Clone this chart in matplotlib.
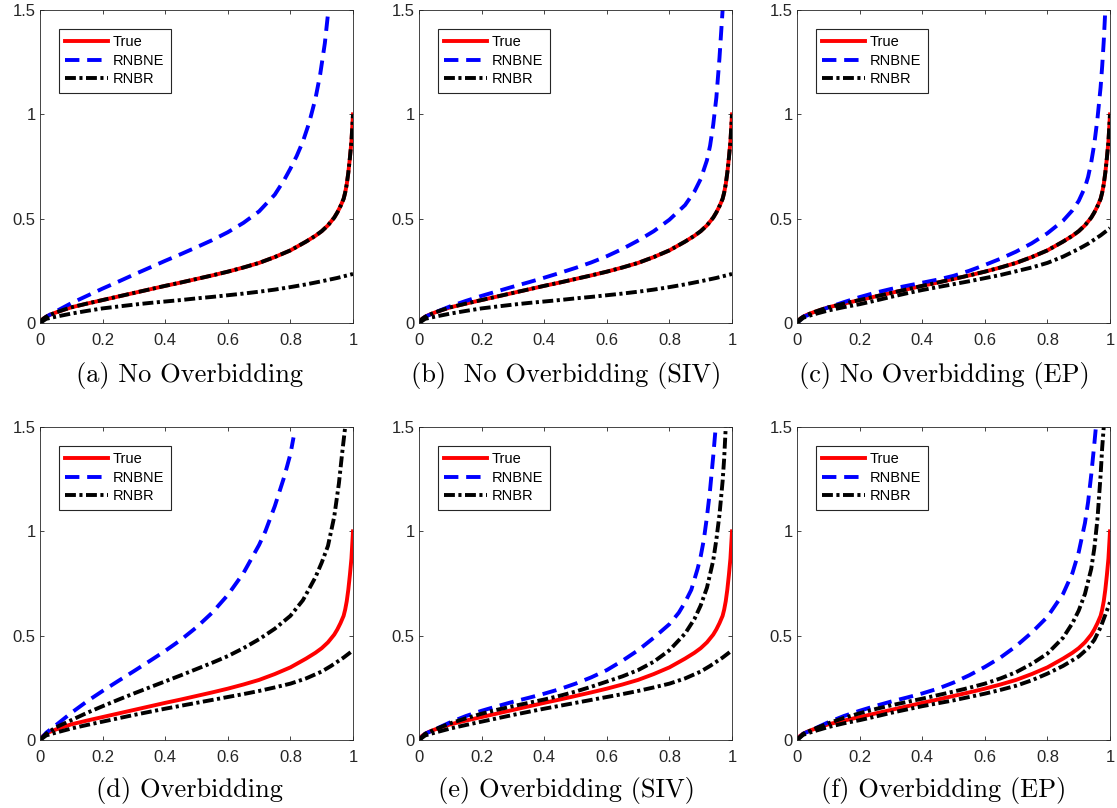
import matplotlib
matplotlib.use("Agg")
import matplotlib.pyplot as plt

# ---- data ----
x_true = [0, 0.005, 0.01, 0.02, 0.03, 0.05, 0.075, 0.1, 0.15, 0.2, 0.25, 0.3, 0.35, 0.4, 0.45, 0.5, 0.55, 0.6,
          0.65, 0.7, 0.75, 0.8, 0.85, 0.88, 0.9, 0.92, 0.94, 0.95, 0.96, 0.97, 0.975, 0.98, 0.985, 0.99, 0.995, 1.0]
y_true = [0, 0.012, 0.02, 0.03, 0.038, 0.05, 0.063, 0.075, 0.093, 0.11, 0.127, 0.144, 0.161, 0.178, 0.194, 0.211,
          0.228, 0.246, 0.266, 0.288, 0.316, 0.348, 0.39, 0.418, 0.44, 0.468, 0.505, 0.53, 0.56, 0.595, 0.625,
          0.665, 0.72, 0.79, 0.87, 1.0]

# RNBNE per panel
x_ne_a = [0, 0.02, 0.05, 0.1, 0.15, 0.2, 0.25, 0.3, 0.35, 0.4, 0.45, 0.5, 0.55, 0.6, 0.65, 0.7, 0.75, 0.78,
          0.8, 0.82, 0.84, 0.86, 0.88, 0.895, 0.91, 0.92]
y_ne_a = [0, 0.03, 0.055, 0.095, 0.13, 0.165, 0.198, 0.232, 0.265, 0.298, 0.33, 0.363, 0.397, 0.435, 0.48,
          0.535, 0.615, 0.685, 0.74, 0.80, 0.87, 0.96, 1.075, 1.19, 1.34, 1.48]
x_ne_b = [0, 0.02, 0.05, 0.1, 0.15, 0.2, 0.25, 0.3, 0.35, 0.4, 0.45, 0.5, 0.55, 0.6, 0.65, 0.7, 0.75, 0.8,
          0.85, 0.88, 0.9, 0.92, 0.93, 0.94, 0.95, 0.96, 0.97]
y_ne_b = [0, 0.03, 0.05, 0.08, 0.106, 0.13, 0.152, 0.174, 0.195, 0.217, 0.24, 0.264, 0.29, 0.32, 0.355, 0.395,
          0.44, 0.495, 0.565, 0.63, 0.69, 0.78, 0.85, 0.95, 1.08, 1.27, 1.5]
x_ne_c = [0, 0.02, 0.05, 0.1, 0.15, 0.2, 0.25, 0.3, 0.35, 0.4, 0.45, 0.5, 0.55, 0.6, 0.65, 0.7, 0.75, 0.8,
          0.85, 0.88, 0.9, 0.92, 0.93, 0.94, 0.95, 0.96, 0.97, 0.975, 0.98, 0.985]
y_ne_c = [0, 0.03, 0.045, 0.075, 0.1, 0.124, 0.145, 0.163, 0.178, 0.193, 0.208, 0.226, 0.25, 0.278, 0.308,
          0.342, 0.382, 0.43, 0.49, 0.54, 0.585, 0.65, 0.70, 0.77, 0.86, 0.98, 1.13, 1.23, 1.35, 1.5]
x_ne_d = [0, 0.02, 0.05, 0.1, 0.15, 0.2, 0.25, 0.3, 0.35, 0.4, 0.45, 0.5, 0.55, 0.6, 0.65, 0.7, 0.72, 0.75,
          0.78, 0.8, 0.81]
y_ne_d = [0, 0.035, 0.07, 0.13, 0.185, 0.235, 0.283, 0.33, 0.378, 0.427, 0.48, 0.54, 0.61, 0.695, 0.80, 0.935,
          1.0, 1.12, 1.26, 1.37, 1.45]
x_ne_e = [0, 0.02, 0.05, 0.1, 0.15, 0.2, 0.25, 0.3, 0.35, 0.4, 0.45, 0.5, 0.55, 0.6, 0.65, 0.7, 0.75, 0.8,
          0.83, 0.85, 0.87, 0.89, 0.9, 0.91, 0.92, 0.93, 0.94, 0.948]
y_ne_e = [0, 0.03, 0.05, 0.085, 0.115, 0.14, 0.162, 0.183, 0.202, 0.222, 0.244, 0.27, 0.3, 0.335, 0.38, 0.43,
          0.49, 0.555, 0.61, 0.66, 0.72, 0.82, 0.88, 0.96, 1.07, 1.2, 1.36, 1.5]
x_ne_f = [0, 0.02, 0.05, 0.1, 0.15, 0.2, 0.25, 0.3, 0.35, 0.4, 0.45, 0.5, 0.55, 0.6, 0.65, 0.7, 0.75, 0.8,
          0.85, 0.88, 0.9, 0.92, 0.93, 0.94, 0.95, 0.955]
y_ne_f = [0, 0.03, 0.05, 0.085, 0.115, 0.14, 0.163, 0.184, 0.203, 0.223, 0.246, 0.275, 0.31, 0.35, 0.395, 0.45,
          0.515, 0.59, 0.70, 0.80, 0.90, 1.04, 1.14, 1.27, 1.42, 1.5]

# RNBR upper bound (d, e, f); in a, b, c it equals True
x_hi_d = [0, 0.02, 0.05, 0.1, 0.15, 0.2, 0.25, 0.3, 0.35, 0.4, 0.45, 0.5, 0.55, 0.6, 0.65, 0.7, 0.75, 0.8,
          0.84, 0.88, 0.9, 0.92, 0.94, 0.955, 0.965, 0.975]
y_hi_d = [0, 0.03, 0.06, 0.095, 0.13, 0.162, 0.193, 0.223, 0.252, 0.281, 0.31, 0.34, 0.37, 0.402, 0.44,
          0.483, 0.533, 0.595, 0.67, 0.78, 0.85, 0.93, 1.07, 1.23, 1.37, 1.5]
x_hi_e = [0, 0.02, 0.05, 0.1, 0.15, 0.2, 0.25, 0.3, 0.35, 0.4, 0.45, 0.5, 0.55, 0.6, 0.65, 0.7, 0.75, 0.8,
          0.85, 0.88, 0.9, 0.92, 0.94, 0.95, 0.96, 0.97, 0.975, 0.98]
y_hi_e = [0, 0.03, 0.05, 0.08, 0.104, 0.126, 0.145, 0.162, 0.178, 0.194, 0.212, 0.232, 0.255, 0.28, 0.305,
          0.335, 0.375, 0.43, 0.51, 0.58, 0.645, 0.73, 0.86, 0.96, 1.08, 1.24, 1.35, 1.5]
x_hi_f = [0, 0.02, 0.05, 0.1, 0.15, 0.2, 0.25, 0.3, 0.35, 0.4, 0.45, 0.5, 0.55, 0.6, 0.65, 0.7, 0.75, 0.8,
          0.85, 0.88, 0.9, 0.92, 0.94, 0.95, 0.96, 0.97, 0.975, 0.98]
y_hi_f = [0, 0.03, 0.05, 0.08, 0.106, 0.128, 0.148, 0.166, 0.182, 0.198, 0.215, 0.232, 0.25, 0.27, 0.295,
          0.325, 0.365, 0.414, 0.49, 0.56, 0.62, 0.70, 0.82, 0.92, 1.06, 1.27, 1.4, 1.5]

# RNBR lower bound
x_lo_ab = [0, 0.02, 0.05, 0.1, 0.15, 0.2, 0.25, 0.3, 0.35, 0.4, 0.45, 0.5, 0.55, 0.6, 0.65, 0.7, 0.75, 0.8,
           0.85, 0.9, 0.95, 1.0]
y_lo_ab = [0, 0.02, 0.03, 0.045, 0.058, 0.07, 0.079, 0.088, 0.096, 0.103, 0.11, 0.118, 0.125, 0.133, 0.141,
           0.15, 0.16, 0.172, 0.185, 0.2, 0.216, 0.235]
x_lo_c = [0, 0.02, 0.05, 0.1, 0.15, 0.2, 0.25, 0.3, 0.35, 0.4, 0.45, 0.5, 0.55, 0.6, 0.65, 0.7, 0.75, 0.8,
          0.85, 0.9, 0.93, 0.95, 0.97, 0.99, 1.0]
y_lo_c = [0, 0.025, 0.04, 0.06, 0.076, 0.09, 0.107, 0.125, 0.142, 0.158, 0.172, 0.186, 0.2, 0.215, 0.23,
          0.248, 0.266, 0.288, 0.318, 0.355, 0.38, 0.40, 0.42, 0.443, 0.455]
x_lo_de = [0, 0.02, 0.05, 0.1, 0.15, 0.2, 0.25, 0.3, 0.35, 0.4, 0.45, 0.5, 0.55, 0.6, 0.65, 0.7, 0.75, 0.8,
           0.85, 0.9, 0.93, 0.95, 0.97, 0.99, 1.0]
y_lo_de = [0, 0.022, 0.035, 0.055, 0.072, 0.088, 0.104, 0.12, 0.135, 0.15, 0.164, 0.178, 0.192, 0.206, 0.22,
           0.235, 0.252, 0.27, 0.295, 0.328, 0.355, 0.375, 0.395, 0.418, 0.43]
x_lo_f = [0, 0.02, 0.05, 0.1, 0.15, 0.2, 0.25, 0.3, 0.35, 0.4, 0.45, 0.5, 0.55, 0.6, 0.65, 0.7, 0.75, 0.8,
          0.85, 0.9, 0.93, 0.95, 0.97, 0.98, 0.99, 1.0]
y_lo_f = [0, 0.025, 0.04, 0.062, 0.08, 0.095, 0.112, 0.13, 0.146, 0.162, 0.176, 0.19, 0.206, 0.222, 0.24,
          0.26, 0.286, 0.318, 0.355, 0.40, 0.44, 0.48, 0.54, 0.58, 0.62, 0.66]

captions = ["(a) No Overbidding", "(b)  No Overbidding (SIV)", "(c) No Overbidding (EP)",
            "(d) Overbidding", "(e) Overbidding (SIV)", "(f) Overbidding (EP)"]
xticks = [0, 0.2, 0.4, 0.6, 0.8, 1]
xticklabels = ["0", "0.2", "0.4", "0.6", "0.8", "1"]
yticks = [0, 0.5, 1, 1.5]
yticklabels = ["0", "0.5", "1", "1.5"]

panels = [
    (x_ne_a, y_ne_a, x_true, y_true, x_lo_ab, y_lo_ab),
    (x_ne_b, y_ne_b, x_true, y_true, x_lo_ab, y_lo_ab),
    (x_ne_c, y_ne_c, x_true, y_true, x_lo_c, y_lo_c),
    (x_ne_d, y_ne_d, x_hi_d, y_hi_d, x_lo_de, y_lo_de),
    (x_ne_e, y_ne_e, x_hi_e, y_hi_e, x_lo_de, y_lo_de),
    (x_ne_f, y_ne_f, x_hi_f, y_hi_f, x_lo_f, y_lo_f),
]

W, H = 1117, 808
fig = plt.figure(figsize=(W / 100, H / 100), dpi=100)

lefts = [40, 419, 797]
tops = [10, 427]
size = 313
cap_x = [189, 566, 944]
cap_y = [375, 790]

edge = "#262626"
lw = 2.8
dash_ne = (0, (3.7, 2.0))
dash_br = (0, (2.8, 0.9, 0.8, 0.9))

for i, (xn, yn, xh, yh, xl, yl) in enumerate(panels):
    r, c = divmod(i, 3)
    ax = fig.add_axes([lefts[c] / W, 1 - (tops[r] + size) / H, size / W, size / H])
    ax.plot(x_true, y_true, color="red", lw=lw, label="True")
    ax.plot(xn, yn, color="blue", lw=lw, linestyle=dash_ne, label="RNBNE")
    ax.plot(xh, yh, color="black", lw=lw, linestyle=dash_br, label="RNBR")
    ax.plot(xl, yl, color="black", lw=lw, linestyle=dash_br)

    ax.set_xlim(0, 1)
    ax.set_ylim(0, 1.5)
    ax.set_xticks(xticks)
    ax.set_xticklabels(xticklabels)
    ax.set_yticks(yticks)
    ax.set_yticklabels(yticklabels)
    ax.tick_params(direction="in", top=True, right=True, length=3, width=0.6,
                   colors=edge, labelsize=12)
    ax.tick_params(axis="x", pad=7)
    ax.tick_params(axis="y", pad=3)
    for lab in ax.get_xticklabels() + ax.get_yticklabels():
        lab.set_fontfamily("Liberation Sans")
    for s in ax.spines.values():
        s.set_color(edge)
        s.set_linewidth(0.6)

    leg = ax.legend(loc="upper left", bbox_to_anchor=(0.06, 0.94), borderaxespad=0,
                    prop={"family": "Liberation Sans", "size": 10.5},
                    handlelength=2.9, handletextpad=0.35, labelspacing=0.3,
                    borderpad=0.45, fancybox=False, framealpha=1)
    leg.get_frame().set_edgecolor(edge)
    leg.get_frame().set_linewidth(0.8)

    fig.text(cap_x[c] / W, 1 - cap_y[r] / H, captions[i], ha="center", va="center",
             fontfamily="cmr10", fontsize=19)

plt.savefig("out.png", dpi=100)
